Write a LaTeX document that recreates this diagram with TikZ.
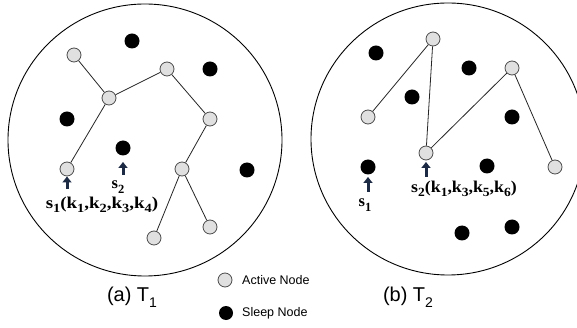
\documentclass[tikz,border=0pt]{standalone}
\usepackage{fontspec}
\setmainfont{Liberation Serif}
\newfontfamily\arialf{Liberation Sans}
\usetikzlibrary{arrows.meta}
\definecolor{navyink}{HTML}{1C2A44}
\newcommand\lsub[1]{\raisebox{-0.28em}{\fontsize{12.5}{12.5}\selectfont #1}}
\newcommand\csub[1]{\raisebox{-0.3em}{\fontsize{14}{14}\selectfont #1}}
\tikzset{
 active/.style={circle, draw=black!70, fill=black!12, line width=0.8pt, minimum size=14pt, inner sep=0pt},
 sleep/.style={circle, fill=black, minimum size=15pt, inner sep=0pt},
 link/.style={line width=0.8pt, black!85},
 ring/.style={line width=0.9pt},
 pointer/.style={-{Triangle[width=9pt,length=6pt]}, line width=3pt, color=navyink},
 lab/.style={font=\bfseries\fontsize{16.5}{16.5}\selectfont, inner sep=0pt},
 captext/.style={font=\arialf\fontsize{20}{20}\selectfont, inner sep=0pt},
 leg/.style={font=\arialf\fontsize{12.5}{12.5}\selectfont, inner sep=0pt, anchor=west},
}
\begin{document}
\begin{tikzpicture}[x=1pt,y=-1pt]
\useasboundingbox (0,0) rectangle (577,328);
\clip (0,0) rectangle (577,328);
\fill[white] (0,0) rectangle (577,328);
% rings
\draw[ring] (145,140) ellipse [x radius=137, y radius=136];
\draw[ring] (448,139) ellipse [x radius=137, y radius=136];
% left panel
\node[active] (a1) at (74,55) {};
\node[active] (a2) at (109,98) {};
\node[active] (a3) at (167,69) {};
\node[active] (a4) at (210,119) {};
\node[active] (a5) at (182,169) {};
\node[active] (a6) at (67,169) {};
\node[active] (a7) at (210,227) {};
\node[active] (a8) at (154,238) {};
\draw[link] (a1) -- (a2) (a2) -- (a3) (a3) -- (a4) (a4) -- (a5) (a2) -- (a6) (a5) -- (a7) (a5) -- (a8);
\node[sleep] (p1) at (132,41) {};
\node[sleep] (p2) at (210,69) {};
\node[sleep] (p3) at (67,119) {};
\node[sleep] (p4) at (123,148) {};
\node[sleep] (p5) at (247,170) {};
\draw[pointer] ([yshift=-20pt]a6.center) -- ([yshift=-7.5pt]a6.center);
\draw[pointer] ([yshift=-27pt]p4.center) -- ([yshift=-14pt]p4.center);
\node[lab] (ls2) at (118,187) {s\lsub{2}};
\node[lab] (ls1) at (102,205) {\scalebox{1.15}[1]{s\lsub{1}(k\lsub{1},k\lsub{2},k\lsub{3},k\lsub{4})}};
% right panel
\node[active] (b1) at (433,39) {};
\node[active] (b2) at (368,117) {};
\node[active] (b3) at (426,153) {};
\node[active] (b4) at (512,68) {};
\node[active] (b5) at (555,167) {};
\draw[link] (b1) -- (b2) (b1) -- (b3) (b3) -- (b4) (b4) -- (b5);
\node[sleep] (q1) at (376,53) {};
\node[sleep] (q2) at (412,97) {};
\node[sleep] (q3) at (469,68) {};
\node[sleep] (q4) at (512,117) {};
\node[sleep] (q5) at (368,167) {};
\node[sleep] (q6) at (487,166) {};
\node[sleep] (q7) at (462,233) {};
\node[sleep] (q8) at (512,227) {};
\draw[pointer] ([yshift=-25pt]q5.center) -- ([yshift=-10pt]q5.center);
\draw[pointer] ([yshift=-24pt]b3.center) -- ([yshift=-9pt]b3.center);
\node[lab] (rs1) at (365,205) {s\lsub{1}};
\node[lab] (rs2) at (464,189) {\scalebox{1.08}[1]{s\lsub{2}(k\lsub{1},k\lsub{3},k\lsub{5},k\lsub{6})}};
% captions
\node[captext] (capa) at (132,297) {(a) T\csub{1}};
\node[captext] (capb) at (408,297) {(b) T\csub{2}};
% legend
\node[active] (la) at (225,280) {};
\node[leg] (lat) at (242,280) {Active Node};
\node[sleep, minimum size=14pt] (ls) at (226,313) {};
\node[leg] (lst) at (242,313) {Sleep Node};
\end{tikzpicture}
\end{document}
